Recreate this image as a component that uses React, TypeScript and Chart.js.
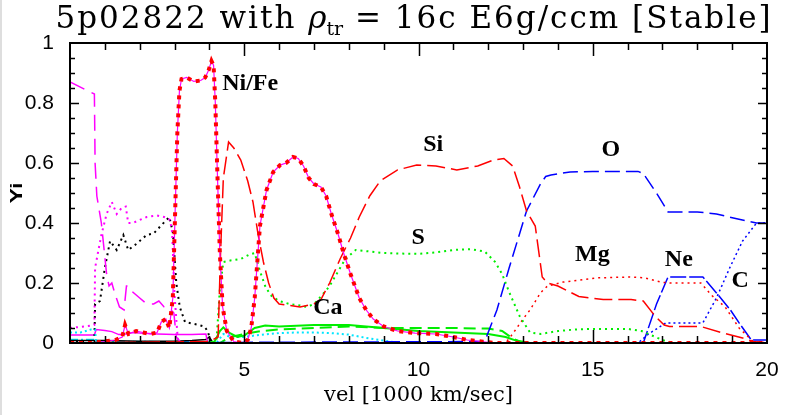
import React, { useEffect, useRef } from "react";
import { Chart, registerables } from "chart.js";

Chart.register(...registerables);

// ---- axes ----
const X_MIN = 0;
const X_MAX = 20;
const X_MAJOR_STEP = 5;
const X_MINOR_STEP = 1;
const Y_MIN = 0;
const Y_MAX = 1;
const Y_MAJOR_STEP = 0.2;
const Y_MINOR_STEP = 0.05;

// ---- abundance profiles (velocity in 1000 km/s, mass fraction) ----
const niFeV = [0, 0.6, 1.0, 1.3, 1.5, 1.58, 1.68, 1.9, 2.1, 2.3, 2.5, 2.62, 2.75, 2.85, 2.95, 3.02, 3.08, 3.14, 3.2, 3.35, 3.55, 3.75, 3.88, 3.98, 4.06, 4.12, 4.17, 4.22, 4.3, 4.38, 4.5, 4.7, 4.95, 5.1, 5.2, 5.3, 5.45, 5.64, 5.83, 6.03, 6.2, 6.4, 6.55, 6.7, 6.85, 7.0, 7.2, 7.35, 7.5, 7.7, 7.85, 8.05, 8.3, 8.5, 8.7, 9.0, 9.4, 9.9, 10.5, 11.0, 11.4, 11.8, 12.2, 20];
const niFeY = [0, 0, 0.005, 0.01, 0.02, 0.06, 0.03, 0.04, 0.035, 0.03, 0.035, 0.07, 0.08, 0.05, 0.15, 0.45, 0.7, 0.84, 0.88, 0.885, 0.872, 0.875, 0.885, 0.91, 0.94, 0.925, 0.8, 0.6, 0.3, 0.12, 0.04, 0.005, 0, 0.01, 0.05, 0.15, 0.39, 0.51, 0.57, 0.593, 0.6, 0.62, 0.615, 0.59, 0.55, 0.53, 0.52, 0.49, 0.43, 0.36, 0.3, 0.23, 0.15, 0.11, 0.08, 0.055, 0.04, 0.033, 0.03, 0.02, 0.01, 0.005, 0, 0];

const siV = [0, 4.0, 4.25, 4.32, 4.4, 4.55, 4.7, 4.9, 5.1, 5.25, 5.4, 5.55, 5.7, 5.85, 6.0, 6.3, 6.6, 6.8, 7.0, 7.2, 7.45, 7.75, 8.05, 8.3, 8.6, 8.9, 9.4, 9.95, 10.5, 11.1, 11.7, 12.15, 12.45, 12.7, 12.9, 13.1, 13.35, 13.55, 13.7, 14.0, 14.6, 15.3, 16.1, 16.45, 16.8, 17.05, 17.2, 18.1, 18.75, 19.3, 19.6, 20];
const siY = [0, 0.005, 0.02, 0.3, 0.55, 0.67, 0.65, 0.61, 0.54, 0.47, 0.36, 0.27, 0.2, 0.15, 0.13, 0.125, 0.12, 0.125, 0.13, 0.145, 0.2, 0.28, 0.35, 0.42, 0.49, 0.54, 0.577, 0.593, 0.59, 0.577, 0.59, 0.61, 0.615, 0.59, 0.52, 0.44, 0.39, 0.22, 0.2, 0.19, 0.155, 0.145, 0.145, 0.14, 0.088, 0.06, 0.055, 0.055, 0.033, 0.017, 0.005, 0];

const sV = [0, 4.2, 4.3, 4.4, 4.6, 4.9, 5.15, 5.3, 5.45, 5.6, 5.75, 6.0, 6.3, 6.6, 6.8, 7.0, 7.2, 7.45, 7.65, 7.9, 8.2, 8.6, 9.0, 9.5, 10.0, 10.5, 11.0, 11.5, 11.9, 12.2, 12.4, 12.6, 12.9, 13.2, 13.5, 14.0, 14.5, 15.0, 15.5, 16.0, 16.4, 16.7, 17.0, 17.3, 20];
const sY = [0, 0, 0.18, 0.27, 0.275, 0.28, 0.295, 0.3, 0.24, 0.19, 0.16, 0.14, 0.13, 0.125, 0.12, 0.13, 0.155, 0.19, 0.23, 0.28, 0.31, 0.305, 0.3, 0.298, 0.297, 0.302, 0.31, 0.313, 0.305, 0.27, 0.23, 0.17, 0.09, 0.035, 0.03, 0.04, 0.045, 0.047, 0.047, 0.047, 0.04, 0.025, 0.01, 0, 0];

const caV = [0, 3.9, 4.15, 4.3, 4.4, 4.55, 4.8, 5.0, 5.3, 5.6, 6.0, 7.0, 8.0, 8.5, 9.0, 10.0, 11.0, 12.0, 12.5, 12.8, 13.2, 20];
const caY = [0, 0, 0.005, 0.04, 0.052, 0.035, 0.02, 0.025, 0.05, 0.058, 0.055, 0.06, 0.06, 0.055, 0.05, 0.04, 0.035, 0.03, 0.02, 0.008, 0, 0];

const arV = [0, 4.3, 4.6, 5.0, 5.5, 6.0, 7.0, 8.0, 9.0, 10.0, 11.0, 12.0, 12.4, 12.7, 13.0, 20];
const arY = [0, 0, 0.02, 0.03, 0.04, 0.045, 0.05, 0.055, 0.05, 0.05, 0.05, 0.048, 0.04, 0.015, 0, 0];

const cyanV = [0, 0.3, 0.6, 0.72, 0.75, 4.2, 4.4, 4.6, 5.0, 5.3, 5.7, 6.0, 6.5, 7.0, 7.5, 8.0, 8.5, 9.0, 9.5, 20];
const cyanY = [0.035, 0.035, 0.045, 0.045, 0, 0, 0.03, 0.02, 0.02, 0.025, 0.03, 0.033, 0.035, 0.035, 0.033, 0.028, 0.017, 0.008, 0, 0];

const heV = [0, 0.7, 0.72, 0.77, 0.9, 1.05, 1.12, 1.2, 1.3, 1.42, 1.55, 1.62, 1.68, 1.8, 2.0, 2.2, 2.4, 2.55, 2.7, 2.9, 2.98, 3.05, 3.2, 20];
const heY = [0.87, 0.83, 0.6, 0.49, 0.4, 0.23, 0.19, 0.2, 0.16, 0.12, 0.11, 0.19, 0.19, 0.17, 0.15, 0.13, 0.13, 0.14, 0.12, 0.11, 0.1, 0.02, 0, 0];

const magDotV = [0, 0.4, 0.7, 0.72, 0.8, 0.9, 1.05, 1.2, 1.34, 1.48, 1.6, 1.67, 1.8, 2.0, 2.2, 2.5, 2.7, 2.87, 2.93, 3.0, 3.1, 20];
const magDotY = [0.05, 0.055, 0.06, 0.25, 0.3, 0.36, 0.43, 0.47, 0.43, 0.45, 0.455, 0.4, 0.4, 0.41, 0.42, 0.425, 0.42, 0.41, 0.37, 0.16, 0, 0];

const blackDotV = [0, 0.7, 0.72, 0.86, 1.0, 1.15, 1.34, 1.53, 1.67, 1.9, 2.2, 2.4, 2.6, 2.85, 2.95, 3.05, 3.15, 3.3, 3.5, 3.7, 3.85, 3.95, 4.05, 20];
const blackDotY = [0.005, 0.005, 0.13, 0.14, 0.25, 0.34, 0.31, 0.36, 0.31, 0.33, 0.36, 0.365, 0.39, 0.42, 0.37, 0.2, 0.12, 0.07, 0.065, 0.06, 0.055, 0.04, 0, 0];

const magSolidV = [0, 0.7, 0.75, 1.0, 1.2, 1.4, 1.6, 1.8, 2.0, 2.5, 3.0, 3.5, 3.9, 3.95, 20];
const magSolidY = [0.027, 0.027, 0.045, 0.042, 0.038, 0.028, 0.03, 0.035, 0.033, 0.03, 0.028, 0.028, 0.03, 0, 0];

const blackSolidV = [0, 1, 2, 3, 3.5, 3.9, 4.0, 4.1, 20];
const blackSolidY = [0.008, 0.008, 0.006, 0.006, 0.008, 0.012, 0.02, 0, 0];

const cyanLowV = [0, 0.7, 0.75, 2, 3, 3.9, 4.0, 20];
const cyanLowY = [0.012, 0.012, 0.005, 0.005, 0.004, 0.004, 0, 0];

const oV = [0, 11.9, 12.25, 12.6, 13.1, 13.5, 13.65, 13.8, 14.35, 15.0, 16.3, 16.45, 16.83, 17.16, 18.0, 18.55, 19.1, 19.7, 20];
const oY = [0, 0.005, 0.11, 0.25, 0.44, 0.53, 0.555, 0.56, 0.57, 0.572, 0.572, 0.565, 0.5, 0.437, 0.437, 0.43, 0.415, 0.4, 0.4];

const neV = [0, 16.45, 16.83, 17.16, 18.16, 18.55, 18.95, 19.2, 19.55, 20];
const neY = [0, 0, 0.13, 0.22, 0.22, 0.167, 0.11, 0.067, 0.01, 0.01];

const mgV = [0, 12.5, 12.7, 13.0, 13.2, 13.5, 13.7, 14.15, 15.1, 16.07, 16.5, 16.95, 17.2, 18.1, 18.4, 18.8, 19.2, 19.6, 20];
const mgY = [0, 0, 0.03, 0.08, 0.11, 0.167, 0.19, 0.203, 0.217, 0.22, 0.217, 0.203, 0.2, 0.2, 0.16, 0.12, 0.05, 0.005, 0];

const cV = [0, 16.3, 16.6, 17.1, 18.16, 18.55, 18.94, 19.3, 19.7, 20];
const cY = [0, 0, 0.03, 0.067, 0.067, 0.15, 0.253, 0.34, 0.4, 0.4];

// ---- element labels placed in data space ----
const labelText = ["Ni/Fe", "Si", "S", "Ca", "O", "Mg", "Ne", "C"];
const labelV = [5.17, 10.42, 9.99, 7.4, 15.52, 14.99, 17.47, 19.23];
const labelY = [0.863, 0.66, 0.35, 0.117, 0.643, 0.293, 0.277, 0.207];

const RED = "#ff0000";
const MAGENTA = "#ff00ff";
const GREEN = "#00ee00";
const BLUE = "#0000ff";
const CYAN = "#00e5ff";
const BLACK = "#000000";

const pts = (v: number[], y: number[]) => v.map((x, i) => ({ x, y: y[i] }));

function line(label: string, v: number[], y: number[], color: string, width: number, dash: number[]) {
  return {
    label,
    data: pts(v, y),
    borderColor: color,
    backgroundColor: color,
    borderWidth: width,
    borderDash: dash,
    pointRadius: 0,
    tension: 0,
    fill: false,
  };
}

const framePlugin = {
  id: "frameAndText",
  beforeDraw(chart: any) {
    const { ctx, width, height } = chart;
    ctx.save();
    ctx.fillStyle = "#ffffff";
    ctx.fillRect(0, 0, width, height);
    ctx.fillStyle = "#dedede";
    ctx.fillRect(0, 0, 2, height);
    ctx.restore();
  },
  afterDraw(chart: any) {
    const { ctx, chartArea: a, scales } = chart;
    const xs = scales.x;
    const ys = scales.y;
    ctx.save();
    ctx.strokeStyle = BLACK;
    ctx.lineWidth = 2;
    ctx.strokeRect(a.left, a.top, a.right - a.left, a.bottom - a.top);

    // inward tick marks on all four sides
    ctx.lineWidth = 1.5;
    ctx.beginPath();
    const nx = Math.round((X_MAX - X_MIN) / X_MINOR_STEP);
    for (let i = 1; i < nx; i++) {
      const v = X_MIN + i * X_MINOR_STEP;
      const major = Math.abs(v / X_MAJOR_STEP - Math.round(v / X_MAJOR_STEP)) < 1e-6;
      const len = major ? 13 : 7;
      const px = Math.round(xs.getPixelForValue(v)) + 0.5;
      ctx.moveTo(px, a.bottom);
      ctx.lineTo(px, a.bottom - len);
      ctx.moveTo(px, a.top);
      ctx.lineTo(px, a.top + len);
    }
    const ny = Math.round((Y_MAX - Y_MIN) / Y_MINOR_STEP);
    for (let i = 1; i < ny; i++) {
      const v = Y_MIN + i * Y_MINOR_STEP;
      const major = Math.abs(v / Y_MAJOR_STEP - Math.round(v / Y_MAJOR_STEP)) < 1e-6;
      const len = major ? 9 : 5;
      const py = Math.round(ys.getPixelForValue(v)) + 0.5;
      ctx.moveTo(a.left, py);
      ctx.lineTo(a.left + len, py);
      ctx.moveTo(a.right, py);
      ctx.lineTo(a.right - len, py);
    }
    ctx.stroke();

    // element labels
    ctx.fillStyle = BLACK;
    ctx.font = "bold 24px 'Liberation Serif'";
    ctx.textAlign = "center";
    ctx.textBaseline = "middle";
    labelText.forEach((t, i) => {
      ctx.fillText(t, xs.getPixelForValue(labelV[i]), ys.getPixelForValue(labelY[i]));
    });

    // x-axis title
    ctx.font = "21px 'DejaVu Serif'";
    ctx.textBaseline = "alphabetic";
    ctx.fillText("vel [1000 km/sec]", (a.left + a.right) / 2, 401);

    // y-axis title
    ctx.save();
    ctx.translate(22, (a.top + a.bottom) / 2);
    ctx.rotate(-Math.PI / 2);
    ctx.scale(1.45, 1);
    ctx.font = "bold 16px 'Liberation Sans'";
    ctx.textAlign = "center";
    ctx.fillText("Yi", 0, 0);
    ctx.restore();

    // main title with italic rho and subscript
    const big = "31px 'DejaVu Serif'";
    const ital = "italic 31px 'DejaVu Serif'";
    const sub = "19px 'DejaVu Serif'";
    const parts: [string, string, number, number][] = [
      ["5p02822 with ", big, 0, 2],
      ["\u03c1", ital, 0, 0],
      ["tr", sub, 7, 0],
      [" = 16c E6g/ccm [Stable]", big, 0, 2],
    ];
    const c: any = ctx;
    let total = 0;
    parts.forEach(([t, f, , sp]) => {
      ctx.font = f;
      c.letterSpacing = sp + "px";
      total += ctx.measureText(t).width;
    });
    let x = 414 - total / 2;
    ctx.textAlign = "left";
    parts.forEach(([t, f, dy, sp]) => {
      ctx.font = f;
      c.letterSpacing = sp + "px";
      ctx.fillText(t, x, 28 + dy);
      x += ctx.measureText(t).width;
    });
    c.letterSpacing = "0px";
    ctx.restore();
  },
};

export default function App() {
  const ref = useRef<HTMLCanvasElement | null>(null);

  useEffect(() => {
    if (!ref.current) return;
    const chart = new Chart(ref.current, {
      type: "line",
      data: {
        datasets: [
          line("Ni/Fe", niFeV, niFeY, RED, 4, [4, 5]),
          line("Ni/Fe trace", niFeV, niFeY, MAGENTA, 1.2, []),
          line("Si", siV, siY, RED, 1.5, [18, 6]),
          line("S", sV, sY, GREEN, 2, [2, 4]),
          line("Mg", mgV, mgY, RED, 1.5, [2, 4]),
          line("O", oV, oY, BLUE, 1.5, [15, 6]),
          line("Ne", neV, neY, BLUE, 1.5, [16, 3]),
          line("C", cV, cY, BLUE, 1.5, [2, 3]),
          line("Ca", caV, caY, GREEN, 2, []),
          line("Ar", arV, arY, GREEN, 2, [12, 6]),
          line("cyan", cyanV, cyanY, CYAN, 2, [2, 3]),
          line("He", heV, heY, MAGENTA, 1.5, [16, 8]),
          line("magenta dotted", magDotV, magDotY, MAGENTA, 2, [2, 4]),
          line("black dotted", blackDotV, blackDotY, BLACK, 2, [2, 4]),
          line("magenta", magSolidV, magSolidY, MAGENTA, 1.5, []),
          line("black", blackSolidV, blackSolidY, BLACK, 1.5, []),
          line("cyan low", cyanLowV, cyanLowY, CYAN, 1.5, [8, 3, 2, 3]),
        ],
      },
      options: {
        responsive: false,
        animation: false,
        events: [],
        layout: { padding: { left: 0, right: 27, top: 43, bottom: 0 } },
        plugins: { legend: { display: false }, title: { display: false }, tooltip: { enabled: false } },
        scales: {
          x: {
            type: "linear",
            min: X_MIN,
            max: X_MAX,
            grid: { display: false },
            border: { display: false },
            ticks: {
              stepSize: X_MAJOR_STEP,
              padding: 7,
              color: BLACK,
              font: { family: "'Liberation Sans'", size: 21 },
              maxRotation: 0,
              callback: (v: any) => (v === 0 ? "" : String(v)),
            },
            afterFit: (s: any) => {
              s.height = 72;
            },
          },
          y: {
            min: Y_MIN,
            max: Y_MAX,
            grid: { display: false },
            border: { display: false },
            ticks: {
              stepSize: Y_MAJOR_STEP,
              padding: 8,
              color: BLACK,
              font: { family: "'Liberation Sans'", size: 21 },
              callback: (v: any) => (v === 0 ? "0" : v === 1 ? "1" : Number(v).toFixed(1)),
            },
            afterFit: (s: any) => {
              s.width = 70;
            },
          },
        },
      },
      plugins: [framePlugin],
    });
    return () => chart.destroy();
  }, []);

  return (
    <div style={{ position: "absolute", left: 0, top: 0, width: 794, height: 415, background: "#fff" }}>
      <canvas ref={ref} width={794} height={415} style={{ display: "block" }} />
    </div>
  );
}
